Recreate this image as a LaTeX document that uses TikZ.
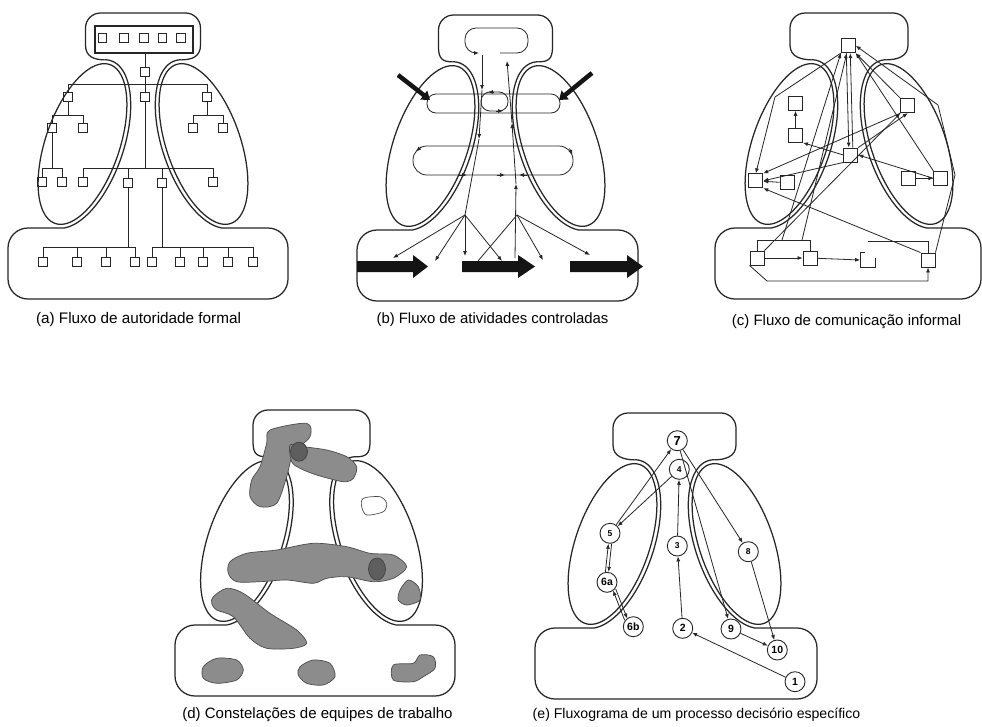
\documentclass[tikz,border=0pt]{standalone}
\usepackage{fontspec}
\setmainfont{Liberation Sans}
\usetikzlibrary{arrows.meta}
% #1 cx, #2 y0, #3 half distance of ellipses, #4 bottom left, #5 bottom right, #6 top half width
\newcommand\orglogo[6]{%
 \pgfmathsetmacro\lgLx{#1-#3}%
 \pgfmathsetmacro\lgRx{#1+#3}%
 \pgfmathsetmacro\lgCy{#2+131}%
 \draw[outl] plot[domain=0:360,samples=120,variable=\t] ({\lgLx+37*cos(\t)*cos(19)-84*sin(\t)*sin(19)},{\lgCy+37*cos(\t)*sin(19)+84*sin(\t)*cos(19)}) -- cycle;
 \draw[outl] plot[domain=0:360,samples=120,variable=\t] ({\lgRx-37*cos(\t)*cos(19)+84*sin(\t)*sin(19)},{\lgCy+37*cos(\t)*sin(19)+84*sin(\t)*cos(19)}) -- cycle;
 \draw[outl,rounded corners=15pt] ({#1-#6},{#2+32}) -- ({#1-#6},#2) -- ({#1+#6},#2) -- ({#1+#6},{#2+32});
 \draw[outl] ({#1-#6},{#2+32}) .. controls ({#1-#6},{#2+44}) and ({\lgLx+12},{#2+46.8}) .. ({\lgLx+22.2},{#2+46.8});
 \draw[outl] ({#1+#6},{#2+32}) .. controls ({#1+#6},{#2+44}) and ({\lgRx-12},{#2+46.8}) .. ({\lgRx-22.2},{#2+46.8});
 \draw[outl] plot[domain=-99.1:75,samples=80,variable=\t] ({\lgLx+41*cos(\t)*cos(19)-88*sin(\t)*sin(19)},{\lgCy+41*cos(\t)*sin(19)+88*sin(\t)*cos(19)});
 \draw[outl] plot[domain=-99.1:75,samples=80,variable=\t] ({\lgRx-41*cos(\t)*cos(19)+88*sin(\t)*sin(19)},{\lgCy+41*cos(\t)*sin(19)+88*sin(\t)*cos(19)});
 \draw[outl,rounded corners=20pt] ({\lgLx-17.65},{#2+215}) -- (#4,{#2+215}) -- (#4,{#2+286}) -- (#5,{#2+286}) -- (#5,{#2+215}) -- ({\lgRx+17.65},{#2+215});
}
\begin{document}
\begin{tikzpicture}[x=1pt,y=-1pt,
  outl/.style={line width=1.25pt, draw=black!85},
  ln/.style={line width=0.8pt, draw=black!85},
  arr/.style={ln, -{Latex[length=5pt,width=4pt]}},
  sq/.style={draw=black!85, line width=1.3pt, minimum size=8.5pt, inner sep=0pt},
  csq/.style={draw=black!85, line width=0.9pt, minimum size=14pt, inner sep=0pt},
  captext/.style={font=\fontsize{15}{17}\selectfont, inner sep=0pt},
  numc/.style={draw=black!85, line width=0.9pt, circle, minimum size=20pt, inner sep=0pt, font=\bfseries\fontsize{10.5}{11}\selectfont},
  snumc/.style={numc, font=\bfseries\fontsize{8.5}{9}\selectfont},
  blob/.style={fill=black!45, draw=black!70, line width=0.7pt},
  dblob/.style={fill=black!63, draw=black!75, line width=0.7pt},
  bigarr/.style={fill=black!92},
]
\fill[white] (0,0) rectangle (982,726);
\useasboundingbox (0,0) rectangle (982,726);

%================ (a) =================
\orglogo{143}{13}{60.5}{8}{288}{57.5}
\node[draw=black!85, line width=1.4pt, minimum width=98pt, minimum height=27pt, inner sep=0pt] (ap) at (144,39.5) {};
\foreach \x [count=\i] in {102.5,124,144,162.5,181} \node[sq] (at\i) at (\x,38) {};
\node[sq] (s0) at (145,72) {};
\node[sq] (sL) at (68,97) {};
\node[sq] (sC) at (145,97) {};
\node[sq] (sR) at (207,97) {};
\draw[ln] (ap.south -| s0) -- (s0.north);
\draw[ln] (s0.south) -- (sC.north);
\draw[ln] (sL.north) -- (sL.north |- 0,84) -- (sR.north |- 0,84) -- (sR.north);
% left branch
\node[sq] (a11) at (52,128) {};
\node[sq] (a12) at (83,128) {};
\draw[ln] (sL.south) -- (sL.south |- 0,115);
\draw[ln] (a11.north) -- (a11.north |- 0,115) -- (a12.north |- 0,115) -- (a12.north);
\node[sq] (a21) at (42,182) {};
\node[sq] (a22) at (62,182) {};
\draw[ln] (a11.south) -- (a11.south |- 0,168);
\draw[ln] (a21.north) -- (a21.north |- 0,168) -- (a22.north |- 0,168) -- (a22.north);
% right branch
\node[sq] (b11) at (193,128) {};
\node[sq] (b12) at (223,128) {};
\draw[ln] (sR.south) -- (sR.south |- 0,115);
\draw[ln] (b11.north) -- (b11.north |- 0,115) -- (b12.north |- 0,115) -- (b12.north);
% centre
\node[sq] (c1) at (83,182) {};
\node[sq] (c2) at (128,183) {};
\node[sq] (c3) at (162,183) {};
\node[sq] (c4) at (213,182) {};
\draw[ln] (sC.south) -- (sC.south |- 0,168);
\draw[ln] (c1.north) -- (c1.north |- 0,168) -- (c4.north |- 0,168) -- (c4.north);
\draw[ln] (c2.north) -- (c2.north |- 0,168);
\draw[ln] (c3.north) -- (c3.north |- 0,168);
% operating core
\foreach \x [count=\i] in {43,77,106,135} \node[sq] (d\i) at (\x,262) {};
\foreach \x [count=\i] in {152,180,203,228,253} \node[sq] (e\i) at (\x,262) {};
\draw[ln] (c2.south) -- (c2.south |- 0,247);
\draw[ln] (d1.north) -- (d1.north |- 0,247) -- (d4.north |- 0,247) -- (d4.north);
\foreach \i in {2,3} \draw[ln] (d\i.north) -- (d\i.north |- 0,247);
\draw[ln] (c3.south) -- (c3.south |- 0,247);
\draw[ln] (e1.north) -- (e1.north |- 0,247) -- (e5.north |- 0,247) -- (e5.north);
\foreach \i in {2,3,4} \draw[ln] (e\i.north) -- (e\i.north |- 0,247);
\node[captext, font=\fontsize{15.3}{17}\selectfont] (capa) at (138.5,320) {(a) Fluxo de autoridade formal};

%================ (b) =================
\orglogo{495.5}{15}{65}{357}{638}{57}
\draw[ln, rounded corners=11pt, -{Latex[length=5pt,width=4pt]}] (500,53) -- (528,53) -- (528,28) -- (465,28) -- (465,53) -- (479,53);
\draw[ln, rounded corners=9pt] (427,94) rectangle (560,113);
\draw[ln, rounded corners=9pt] (481,92) rectangle (508,111);
\draw[ln, rounded corners=14pt] (413,146) rectangle (573,175);
\draw[arr] (494,92) -- (488,92);
\draw[arr] (496,111) -- (503,111);
\draw[arr] (421,147) -- (416,151.5);
\draw[arr] (569.5,148.5) -- (572.3,155);
\draw[arr] (459,175) -- (467,175);
\draw[arr] (497,175) -- (505,175);
\draw[arr] (527,175) -- (519,175);
\coordinate (bd1) at (482,55);
\coordinate (bd2) at (482,90);
\coordinate (bd3) at (479,139);
\coordinate (bd4) at (472,177);
\coordinate (bFL) at (465,215);
\coordinate (bd5) at (465,256);
\draw[arr] (bd1) -- (bd2);
\draw[arr] (bd2) -- (bd3);
\draw[ln] (bd3) -- (bd4) -- (bFL);
\draw[arr] (bFL) -- (bd5);
\coordinate (bu0) at (515,258);
\coordinate (bu1) at (516,184);
\coordinate (bu2) at (512,123);
\coordinate (bu3) at (507,61);
\draw[arr] (bu0) -- (bu1);
\draw[arr] (bu1) -- (bu2);
\draw[arr] (bu2) -- (bu3);
\coordinate (bFR) at (517,215);
\coordinate (bF1) at (393,258);
\coordinate (bF2) at (435,261);
\coordinate (bF3) at (502,261);
\coordinate (bG1) at (478,261);
\coordinate (bG2) at (543,260);
\coordinate (bG3) at (590,255);
\draw[arr] (bFL) -- (bF1);
\draw[arr] (bFL) -- (bF2);
\draw[arr] (bFL) -- (bF3);
\draw[ln] (bFR) -- (bG1);
\draw[arr] (bFR) -- (bG2);
\draw[arr] (bFR) -- (bG3);
\coordinate (bk1) at (398,75);
\coordinate (bk2) at (430,100);
\coordinate (bk3) at (592,73);
\coordinate (bk4) at (559,100);
\draw[line width=4.5pt, black!92, -{Triangle[length=8pt,width=11pt]}] (bk1) -- (bk2);
\draw[line width=4.5pt, black!92, -{Triangle[length=8pt,width=11pt]}] (bk3) -- (bk4);
\fill[bigarr] (357,261) -- (413,261) -- (413,255) -- (428,266.5) -- (413,278) -- (413,272) -- (357,272) -- cycle;
\fill[bigarr] (462,261) -- (518,261) -- (518,255) -- (535,266.5) -- (518,278) -- (518,272) -- (462,272) -- cycle;
\fill[bigarr] (570,261) -- (627,261) -- (627,255) -- (643,266.5) -- (627,278) -- (627,272) -- (570,272) -- cycle;
\node[captext, font=\fontsize{14.9}{17}\selectfont] (capb) at (492.5,319.5) {(b) Fluxo de atividades controladas};

%================ (c) =================
\orglogo{849}{13}{59.5}{715}{981}{59}
\node[csq] (cT) at (848.3,45.7) {};
\node[csq] (cA1) at (795.5,103.3) {};
\node[csq] (cA2) at (795.5,135.3) {};
\node[csq] (cA3) at (755.8,180.8) {};
\node[csq] (cA4) at (787,182.8) {};
\node[csq] (cM) at (850.8,155) {};
\node[csq] (cB1) at (907.8,105.7) {};
\node[csq] (cB2) at (908.3,178.3) {};
\node[csq] (cB3) at (940.8,178.3) {};
\node[csq] (cC1) at (757,258) {};
\node[csq] (cC2) at (810,258) {};
\node[csq,draw=none] (cC3) at (867.5,260) {};
\node[csq] (cC4) at (928,260) {};
\coordinate (cK) at (775,97);
\coordinate (cb1) at (782,240);
\coordinate (cb2) at (802,240);
\coordinate (cR1) at (938,105);
\coordinate (cR2) at (955,175);
\coordinate (cL) at (767,281);
\draw[arr] ([xshift=-2pt]cT.south) -- ([xshift=-2pt]cM.north);
\draw[arr] ([xshift=2pt]cM.north) -- ([xshift=2pt]cT.south);
\draw[arr] (cT.south west) -- (cK) -- (cA3.north);
\draw[arr] (cb1) -- (cT.south west);
\draw[arr] (cb2) -- ([xshift=-1.5pt]cT.south);
\draw[arr] (cC1.north east) -- (cB1.south west);
\draw[arr] (cC4.north west) -- (cA3.south east);
\draw[arr] (cC4.north east) -- (cR2) -- (cR1) -- (cT.east);
\draw[arr] (cB1.north west) -- (cT.south east);
\draw[arr] (cB3.north west) -- (cT.south east);
\draw[arr] (cM.west) -- (cA2.south east);
\draw[arr] (cM.south west) -- (cA3.east);
\draw[arr] (cB3.west) -- (cM.east);
\draw[arr] (cB1.south west) -- (cA3.north east);
\draw[arr] (cM.north east) -- (cB1.south);
\draw[arr] (cA2) -- (cA1);
\draw[arr] (cA4) -- (cA3);
\draw[arr] (cB2) -- (cB3);
\draw[arr] (cC1) -- (cC2);
\draw[arr] (cC2) -- (cC3.west);
\draw[ln] (cC1.north) -- (cC1.north |- 0,240) -- (cC2.north |- 0,240) -- (cC2.north);
\draw[ln] (cC3.north |- 0,241) -- (cC4.north |- 0,241) -- (cC4.north);
\draw[arr] (cC1.south west) -- (cL) -- (cL -| cC4.south) -- (cC4.south);
\draw[line width=0.9pt, black!85] ([xshift=5pt]cC3.north west) -- (cC3.north west) -- (cC3.south west) -- (cC3.south east) -- ([yshift=2pt]cC3.east);
\node[captext] (capc) at (846.5,321.5) {(c) Fluxo de comunicação informal};

%================ (d) =================
\orglogo{311.5}{410}{66.5}{175}{455}{58.5}
\filldraw[blob] plot[smooth cycle, tension=0.5] coordinates {(270,430) (306.7,423.3) (310,436.7) (293.3,453.3) (286.7,476.7) (276.7,503.3) (260,506.7) (250,496.7) (251.7,480) (260,466.7) (266.7,443.3)};
\filldraw[blob] plot[smooth cycle, tension=0.5] coordinates {(290,445) (303.3,446.7) (326.7,450) (346.7,456.7) (356.7,466.7) (353.3,478.3) (343.3,481.7) (316.7,475) (300,468.3) (291.7,461.7)};
\filldraw[dblob] (299,451.7) ellipse[x radius=8.5, y radius=9.5];
\filldraw[fill=white, draw=black!70, line width=0.7pt] plot[smooth cycle, tension=0.5] coordinates {(363.3,498.3) (380,496.7) (386.7,503.3) (383.3,511.7) (366.7,515) (361.7,506.7)};
\filldraw[blob] plot[smooth cycle, tension=0.5] coordinates {(230,561.7) (246.7,553.3) (276.7,550) (313.3,543.3) (346.7,546.7) (370,553.3) (393.3,555) (406.7,566.7) (393.3,578.3) (373.3,581.7) (346.7,576.7) (326.7,578.3) (313.3,583.3) (286.7,580) (260,581.7) (236.7,581.7) (228.3,573.3)};
\filldraw[dblob] (377,569) ellipse[x radius=8.5, y radius=11];
\filldraw[blob] plot[smooth cycle, tension=0.5] coordinates {(408.3,580) (418.3,586.7) (420,600) (406.7,605) (398.3,600) (400,590)};
\filldraw[blob] plot[smooth cycle, tension=0.5] coordinates {(213.3,596.7) (226.7,588.3) (243.3,593.3) (270,613.3) (296.7,630) (306.7,643.3) (293.3,648.3) (266.7,648.3) (250,638.3) (233.3,616.7) (216.7,610) (211.7,603.3)};
\filldraw[blob] plot[smooth cycle, tension=0.5] coordinates {(203.3,666.7) (216.7,658.3) (236.7,660) (243.3,670) (236.7,680) (216.7,683.3) (203.3,678.3)};
\filldraw[blob] plot[smooth cycle, tension=0.5] coordinates {(300,666.7) (313.3,660) (330,663.3) (335,676.7) (323.3,685) (306.7,683.3) (298.3,675)};
\filldraw[blob] plot[smooth cycle, tension=0.5] coordinates {(393.3,665) (413.3,663.3) (420,655) (433.3,656.7) (435,668.3) (423.3,676.7) (413.3,681.7) (393.3,680)};
\node[captext] (capd) at (317.5,715) {(d) Constelações de equipes de trabalho};

%================ (e) =================
\orglogo{674.5}{413}{62}{535}{817}{61.5}
\node[numc, font=\bfseries\fontsize{13}{14}\selectfont] (n7) at (677.3,440.7) {7};
\node[snumc] (n4) at (679.3,469.3) {4};
\node[snumc] (n5) at (610,533.3) {5};
\node[snumc] (n3) at (677.3,546) {3};
\node[snumc] (n8) at (748.3,551.7) {8};
\node[numc] (n6a) at (607,582.3) {6a};
\node[numc] (n6b) at (633.3,626.7) {6b};
\node[numc] (n2) at (682.7,628.3) {2};
\node[numc] (n9) at (731,629) {9};
\node[numc] (n10) at (777.3,650) {10};
\node[numc] (n1) at (795,681.7) {1};
\draw[arr] (n5) -- (n7);
\draw[arr] (n4) -- (n5);
\draw[arr] (n3) -- (n4);
\draw[arr] (n2) -- (n3);
\draw[arr] (n1) -- (n2);
\draw[arr] ([xshift=-1.6pt]n6a.north) -- ([xshift=-1.6pt]n5.south);
\draw[arr] ([xshift=1.6pt]n5.south) -- ([xshift=1.6pt]n6a.north);
\draw[arr] ([shift={(1.3pt,0.8pt)}]n6a.south east) -- ([shift={(1.3pt,0.8pt)}]n6b.north west);
\draw[arr] ([shift={(-1.3pt,-0.8pt)}]n6b.north west) -- ([shift={(-1.3pt,-0.8pt)}]n6a.south east);
\draw[arr] (n7) -- (n8);
\draw[arr] (n7) -- (n9);
\draw[arr] (n8) -- (n10);
\draw[arr] (n9) -- (n10);
\node[captext, font=\fontsize{14.1}{16}\selectfont] (cape) at (696.5,715) {(e) Fluxograma de um processo decisório específico};
\end{tikzpicture}
\end{document}
